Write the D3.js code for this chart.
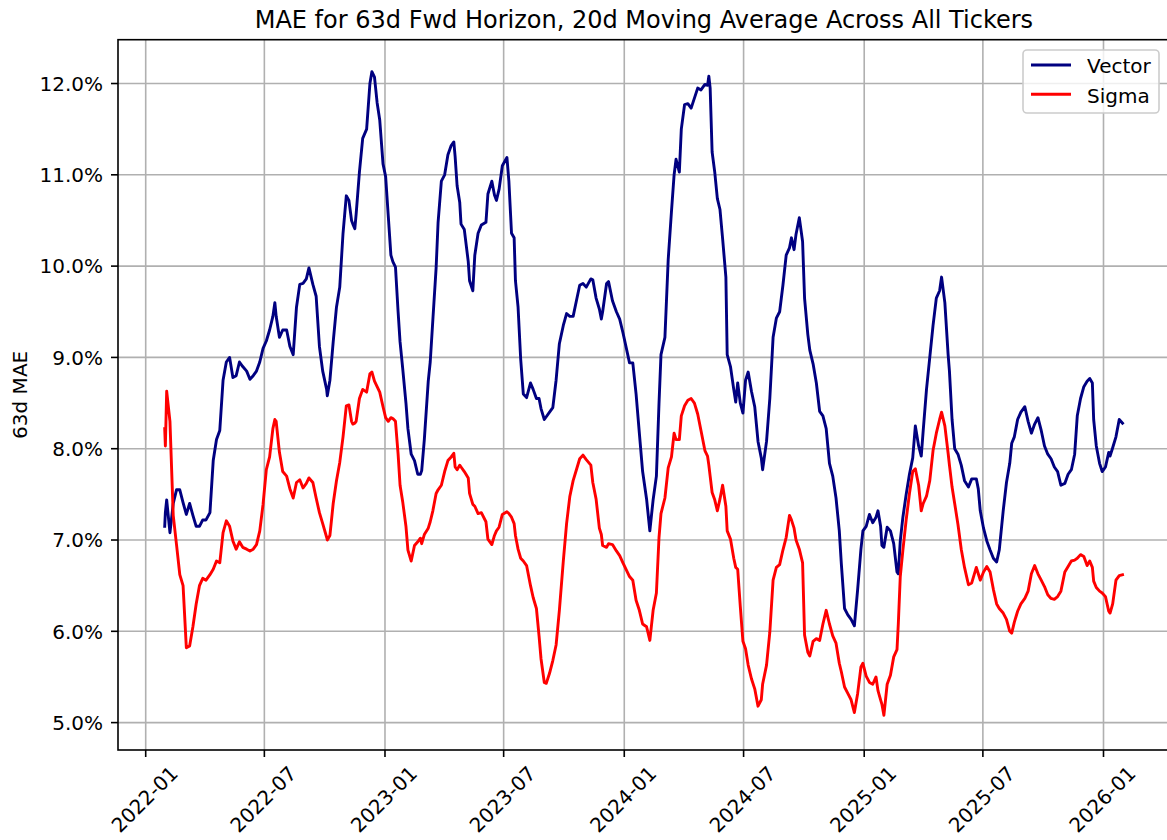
<!DOCTYPE html>
<html>
<head>
<meta charset="utf-8">
<script src="https://cdn.jsdelivr.net/npm/d3@7"></script>
<style>
    body { margin: 0; background: white; }
    svg text { font-family: "DejaVu Sans", sans-serif; fill: black; }
</style>
</head>
<body>
<div id="chart"></div>
<script>
// data, one value per date
var dates = [
    "2022-01-30","2022-01-31","2022-02-02","2022-02-07","2022-02-12","2022-02-17","2022-02-22","2022-02-27",
    "2022-03-04","2022-03-09","2022-03-14","2022-03-19","2022-03-24","2022-03-29","2022-04-03","2022-04-09",
    "2022-04-14","2022-04-19","2022-04-24","2022-04-29","2022-05-04","2022-05-09","2022-05-14","2022-05-19",
    "2022-05-24","2022-05-29","2022-06-04","2022-06-09","2022-06-14","2022-06-19","2022-06-24","2022-06-29",
    "2022-07-04","2022-07-09","2022-07-14","2022-07-17","2022-07-19","2022-07-24","2022-07-29","2022-08-04",
    "2022-08-09","2022-08-14","2022-08-19",
    "2022-08-24","2022-08-29","2022-09-03","2022-09-07","2022-09-13","2022-09-18","2022-09-23","2022-09-28",
    "2022-10-04","2022-10-05","2022-10-09","2022-10-14","2022-10-19","2022-10-24","2022-10-29","2022-11-03",
    "2022-11-07","2022-11-11","2022-11-13","2022-11-16","2022-11-18","2022-11-23","2022-11-28","2022-12-04",
    "2022-12-09","2022-12-12","2022-12-16","2022-12-20","2022-12-24","2022-12-29","2023-01-02","2023-01-06",
    "2023-01-10","2023-01-13","2023-01-17","2023-01-21","2023-01-24","2023-01-28","2023-02-02","2023-02-05",
    "2023-02-10","2023-02-15","2023-02-20","2023-02-24","2023-02-26","2023-03-02","2023-03-08","2023-03-11",
    "2023-03-15","2023-03-20","2023-03-23","2023-03-28","2023-04-02","2023-04-07","2023-04-12","2023-04-16",
    "2023-04-18","2023-04-21","2023-04-25","2023-04-27","2023-05-02","2023-05-08",
    "2023-05-10","2023-05-15","2023-05-18","2023-05-23","2023-05-28","2023-06-04","2023-06-07","2023-06-13",
    "2023-06-17","2023-06-20","2023-06-24","2023-06-29","2023-07-06","2023-07-09","2023-07-13","2023-07-17",
    "2023-07-19","2023-07-23","2023-07-27","2023-07-31","2023-08-05","2023-08-11","2023-08-15","2023-08-20",
    "2023-08-24","2023-08-27","2023-09-01","2023-09-04","2023-09-09","2023-09-14","2023-09-19","2023-09-24",
    "2023-09-30","2023-10-05","2023-10-10","2023-10-15","2023-10-20","2023-10-25","2023-10-30","2023-11-04",
    "2023-11-11","2023-11-14","2023-11-19","2023-11-24","2023-11-27","2023-11-29","2023-12-05","2023-12-08",
    "2023-12-14","2023-12-20","2023-12-25","2023-12-30",
    "2024-01-09","2024-01-14","2024-01-19","2024-01-24","2024-01-29","2024-02-04","2024-02-09","2024-02-14",
    "2024-02-19","2024-02-23","2024-02-26","2024-03-03","2024-03-08","2024-03-13","2024-03-17","2024-03-20",
    "2024-03-25","2024-03-28","2024-04-02","2024-04-07","2024-04-12","2024-04-17","2024-04-22","2024-04-27",
    "2024-05-03","2024-05-07","2024-05-09","2024-05-11","2024-05-14","2024-05-18","2024-05-22","2024-05-26",
    "2024-05-30","2024-06-04","2024-06-06","2024-06-11","2024-06-16","2024-06-19","2024-06-22","2024-06-26",
    "2024-06-30","2024-07-04","2024-07-08","2024-07-13","2024-07-18","2024-07-23","2024-07-28","2024-07-30",
    "2024-08-05","2024-08-10","2024-08-15","2024-08-20","2024-08-25","2024-08-30","2024-09-04",
    "2024-09-09","2024-09-12","2024-09-16","2024-09-19","2024-09-24","2024-09-29","2024-10-02","2024-10-07",
    "2024-10-10","2024-10-15","2024-10-20","2024-10-25","2024-10-30","2024-11-04","2024-11-09","2024-11-14",
    "2024-11-19","2024-11-24","2024-11-27","2024-12-02","2024-12-07","2024-12-12","2024-12-17","2024-12-22",
    "2024-12-27","2024-12-30","2025-01-04","2025-01-09","2025-01-14","2025-01-19","2025-01-22","2025-01-26",
    "2025-01-28","2025-01-31","2025-02-05","2025-02-10","2025-02-15","2025-02-20","2025-02-22","2025-02-25",
    "2025-03-01","2025-03-06","2025-03-11","2025-03-16","2025-03-20","2025-03-25","2025-03-29","2025-04-01",
    "2025-04-06","2025-04-11","2025-04-16","2025-04-21","2025-04-26","2025-04-29","2025-05-04","2025-05-09",
    "2025-05-11","2025-05-15","2025-05-19","2025-05-24","2025-05-29","2025-06-03","2025-06-09","2025-06-14",
    "2025-06-21","2025-06-24","2025-06-27","2025-07-02","2025-07-07","2025-07-12","2025-07-17","2025-07-22",
    "2025-07-26","2025-08-01","2025-08-06","2025-08-11","2025-08-14","2025-08-18","2025-08-23","2025-08-28",
    "2025-09-03","2025-09-08","2025-09-13","2025-09-18","2025-09-23","2025-09-28","2025-10-03","2025-10-08",
    "2025-10-13","2025-10-18","2025-10-23","2025-10-28","2025-11-03","2025-11-08","2025-11-13","2025-11-18",
    "2025-11-22","2025-11-27","2025-12-02","2025-12-07","2025-12-11","2025-12-15","2025-12-17","2025-12-21",
    "2025-12-26","2025-12-30","2026-01-04","2026-01-09","2026-01-11","2026-01-15","2026-01-20","2026-01-25",
    "2026-01-30"
];

var vectorMae = [
    7.15,7.30,7.44,7.08,7.40,7.55,7.55,7.41,
    7.28,7.40,7.27,7.15,7.15,7.22,7.22,7.30,
    7.87,8.10,8.20,8.75,8.95,9.00,8.78,8.80,
    8.95,8.90,8.85,8.76,8.80,8.85,8.95,9.10,
    9.18,9.30,9.45,9.60,9.45,9.22,9.30,9.30,
    9.12,9.03,9.55,
    9.80,9.81,9.86,9.98,9.80,9.67,9.12,8.85,
    8.65,8.58,8.75,9.17,9.55,9.77,10.36,10.77,
    10.72,10.50,10.46,10.41,10.57,11.03,11.40,11.50,
    12.00,12.13,12.07,11.79,11.60,11.12,10.98,10.55,
    10.12,10.05,9.99,9.50,9.17,8.88,8.50,8.22,
    7.94,7.87,7.72,7.72,7.76,8.10,8.74,8.95,
    9.41,9.98,10.48,10.93,11.00,11.22,11.32,11.36,
    11.20,10.88,10.70,10.46,10.40,10.05,
    9.84,9.73,10.12,10.36,10.45,10.48,10.79,10.93,
    10.78,10.72,10.84,11.10,11.19,10.93,10.36,10.31,
    9.84,9.55,8.98,8.60,8.56,8.72,8.65,8.55,
    8.55,8.44,8.32,8.35,8.40,8.45,8.75,9.15,
    9.35,9.48,9.45,9.45,9.62,9.79,9.81,9.77,
    9.86,9.85,9.65,9.53,9.42,9.50,9.81,9.83,
    9.62,9.50,9.42,9.27,
    8.94,8.94,8.60,8.17,7.75,7.45,7.10,7.44,
    7.70,8.50,9.03,9.22,10.07,10.60,11.00,11.17,
    11.03,11.50,11.77,11.78,11.73,11.84,11.95,11.93,
    11.99,11.98,12.08,11.95,11.25,11.03,10.74,10.62,
    10.30,9.88,9.03,8.90,8.65,8.51,8.72,8.50,
    8.39,8.75,8.84,8.63,8.46,8.08,7.90,7.77,
    8.08,8.55,9.22,9.43,9.50,9.79,10.12,
    10.20,10.31,10.18,10.35,10.53,10.27,9.65,9.25,
    9.08,8.93,8.72,8.41,8.36,8.22,7.84,7.70,
    7.46,7.10,6.75,6.25,6.18,6.13,6.06,6.46,
    6.90,7.10,7.15,7.28,7.19,7.25,7.32,7.15,
    6.94,6.92,7.14,7.10,6.96,6.65,6.63,6.99,
    7.25,7.50,7.72,7.90,8.25,8.03,7.92,8.20,
    8.65,9.00,9.35,9.65,9.73,9.88,9.60,9.03,
    8.85,8.32,8.00,7.94,7.82,7.65,7.58,7.67,
    7.67,7.56,7.32,7.13,6.99,6.89,6.80,6.76,
    6.89,7.32,7.63,7.84,8.06,8.13,8.32,8.40,
    8.46,8.30,8.17,8.27,8.34,8.20,8.03,7.94,
    7.89,7.80,7.75,7.60,7.62,7.72,7.77,7.94,
    8.36,8.55,8.68,8.74,8.77,8.72,8.32,8.03,
    7.84,7.75,7.80,7.96,7.92,8.01,8.13,8.32,
    8.28
];

var sigmaMae = [
    8.22,8.03,8.63,8.30,7.27,6.95,6.62,6.50,
    5.82,5.84,6.05,6.30,6.50,6.58,6.56,6.62,
    6.68,6.77,6.75,7.08,7.21,7.15,6.99,6.90,
    6.98,6.92,6.90,6.88,6.90,6.95,7.10,7.39,
    7.77,7.91,8.22,8.32,8.30,7.96,7.75,7.70,
    7.56,7.46,7.63,
    7.66,7.57,7.62,7.68,7.63,7.46,7.30,7.18,
    7.03,7.00,7.05,7.40,7.65,7.85,8.13,8.47,
    8.48,8.30,8.27,8.28,8.30,8.55,8.65,8.62,
    8.82,8.84,8.74,8.68,8.62,8.46,8.34,8.30,
    8.34,8.33,8.30,7.94,7.60,7.42,7.15,6.89,
    6.77,6.94,6.98,7.02,6.96,7.06,7.13,7.20,
    7.32,7.51,7.55,7.60,7.75,7.87,7.91,7.95,
    7.80,7.77,7.82,7.80,7.75,7.68,
    7.51,7.39,7.37,7.29,7.30,7.20,7.01,6.95,
    7.05,7.10,7.14,7.28,7.31,7.29,7.25,7.18,
    7.05,6.90,6.80,6.77,6.72,6.50,6.37,6.25,
    5.95,5.70,5.44,5.43,5.54,5.68,5.85,6.23,
    6.77,7.18,7.48,7.65,7.77,7.89,7.93,7.88,
    7.82,7.63,7.45,7.13,7.06,6.94,6.92,6.96,
    6.95,6.88,6.83,6.75,
    6.60,6.56,6.34,6.23,6.08,6.05,5.90,6.23,
    6.42,7.03,7.29,7.46,7.79,7.91,8.17,8.10,
    8.10,8.36,8.47,8.53,8.55,8.50,8.38,8.20,
    7.98,7.92,7.82,7.70,7.52,7.44,7.32,7.45,
    7.60,7.37,7.10,7.01,6.80,6.70,6.68,6.27,
    5.89,5.81,5.63,5.48,5.37,5.18,5.25,5.42,
    5.63,5.99,6.56,6.70,6.73,6.89,7.03,
    7.27,7.22,7.13,7.00,6.90,6.75,5.96,5.77,
    5.73,5.89,5.92,5.90,6.08,6.23,6.08,5.95,
    5.87,5.65,5.56,5.39,5.32,5.25,5.11,5.32,
    5.61,5.65,5.51,5.44,5.42,5.50,5.35,5.25,
    5.20,5.08,5.42,5.52,5.72,5.80,6.08,6.60,
    6.89,7.22,7.51,7.75,7.78,7.60,7.32,7.40,
    7.48,7.65,7.98,8.17,8.32,8.40,8.25,7.95,
    7.82,7.58,7.40,7.17,6.90,6.70,6.51,6.53,
    6.70,6.63,6.56,6.65,6.71,6.65,6.46,6.30,
    6.25,6.20,6.13,6.00,5.98,6.10,6.22,6.30,
    6.36,6.44,6.63,6.72,6.63,6.56,6.49,6.40,
    6.36,6.35,6.38,6.44,6.65,6.71,6.77,6.78,
    6.80,6.84,6.82,6.72,6.77,6.70,6.55,6.48,
    6.44,6.42,6.38,6.22,6.20,6.30,6.56,6.61,
    6.62
];

var seriesNames = ["Vector", "Sigma"];
var seriesColors = ["#000080", "#ff0000"];

var yTicks = [5, 6, 7, 8, 9, 10, 11, 12];
var xTickLabels = ["2022-01", "2022-07", "2023-01", "2023-07", "2024-01",
                   "2024-07", "2025-01", "2025-07", "2026-01"];

var titleText = "MAE for 63d Fwd Horizon, 20d Moving Average Across All Tickers";
var yLabelText = "63d MAE";

function makeLinePlot(container, options) {
    var that = {};
    var config = {
        width: options.width,
        height: options.height,
        left: 118,
        right: 1169.8,
        top: 39.7,
        bottom: 750
    };
    that.config = config;

    function render() {
        var parseDate = d3.utcParse("%Y-%m-%d");
        var parseMonth = d3.utcParse("%Y-%m");

        var svg = d3.select(container)
            .append("svg")
            .attr("width", config.width)
            .attr("height", config.height);

        // matplotlib put 2022-01 at x=145.7 and 2026-01 at x=1103.5
        var x = d3.scaleUtc()
            .domain([parseMonth("2022-01"), parseMonth("2026-01")])
            .range([145.7, 1103.5]);
        var y = d3.scaleLinear()
            .domain([4.70, 12.48])
            .range([config.bottom, config.top]);

        var series = seriesNames.map(function (name, k) {
            var vals = k == 0 ? vectorMae : sigmaMae;
            return {
                name: name,
                color: seriesColors[k],
                points: dates.map(function (d, i) {
                    return {date: parseDate(d), value: vals[i]};
                })
            };
        });

        svg.append("defs").append("clipPath")
            .attr("id", "plot_clip")
            .append("rect")
            .attr("x", config.left)
            .attr("y", config.top)
            .attr("width", config.right - config.left)
            .attr("height", config.bottom - config.top);

        // grid
        var grid = svg.append("g").attr("class", "grid");
        grid.selectAll(".vgrid")
            .data(xTickLabels)
            .enter().append("line")
            .attr("class", "vgrid")
            .attr("x1", function (d) { return x(parseMonth(d)); })
            .attr("x2", function (d) { return x(parseMonth(d)); })
            .attr("y1", config.top)
            .attr("y2", config.bottom)
            .style("stroke", "#b0b0b0")
            .style("stroke-width", 1.6);
        grid.selectAll(".hgrid")
            .data(yTicks)
            .enter().append("line")
            .attr("class", "hgrid")
            .attr("x1", config.left)
            .attr("x2", config.right)
            .attr("y1", function (d) { return y(d); })
            .attr("y2", function (d) { return y(d); })
            .style("stroke", "#b0b0b0")
            .style("stroke-width", 1.6);

        var line = d3.line()
            .x(function (d) { return x(d.date); })
            .y(function (d) { return y(d.value); });

        svg.append("g")
            .attr("clip-path", "url(#plot_clip)")
            .selectAll(".series_line")
            .data(series)
            .enter().append("path")
            .attr("class", "series_line")
            .attr("d", function (d) { return line(d.points); })
            .style("fill", "none")
            .style("stroke", function (d) { return d.color; })
            .style("stroke-width", 2.9)
            .style("stroke-linejoin", "round")
            .style("stroke-linecap", "square");

        // frame
        svg.append("rect")
            .attr("x", config.left)
            .attr("y", config.top)
            .attr("width", config.right - config.left)
            .attr("height", config.bottom - config.top)
            .style("fill", "none")
            .style("stroke", "black")
            .style("stroke-width", 1.6);

        // y ticks
        var yAxis = svg.append("g").attr("class", "y_axis");
        yAxis.selectAll(".ytick")
            .data(yTicks)
            .enter().append("line")
            .attr("class", "ytick")
            .attr("x1", config.left - 7)
            .attr("x2", config.left)
            .attr("y1", function (d) { return y(d); })
            .attr("y2", function (d) { return y(d); })
            .style("stroke", "black")
            .style("stroke-width", 1.6);
        yAxis.selectAll(".ylab")
            .data(yTicks)
            .enter().append("text")
            .attr("class", "ylab")
            .attr("x", config.left - 15)
            .attr("y", function (d) { return y(d) + 7.3; })
            .attr("text-anchor", "end")
            .style("font-size", "20px")
            .text(function (d) { return d.toFixed(1) + "%"; });

        // x ticks
        var xAxis = svg.append("g").attr("class", "x_axis");
        xAxis.selectAll(".xtick")
            .data(xTickLabels)
            .enter().append("line")
            .attr("class", "xtick")
            .attr("x1", function (d) { return x(parseMonth(d)); })
            .attr("x2", function (d) { return x(parseMonth(d)); })
            .attr("y1", config.bottom)
            .attr("y2", config.bottom + 7)
            .style("stroke", "black")
            .style("stroke-width", 1.6);
        xAxis.selectAll(".xlab")
            .data(xTickLabels)
            .enter().append("g")
            .attr("transform", function (d) {
                return "translate(" + x(parseMonth(d)) + "," + 800.4 + ") rotate(-45)";
            })
            .append("text")
            .attr("x", 0)
            .attr("y", 5.5)
            .attr("text-anchor", "middle")
            .style("font-size", "20px")
            .text(function (d) { return d; });

        // y label
        svg.append("text")
            .attr("transform", "translate(27," + (config.top + config.bottom) / 2 + ") rotate(-90)")
            .attr("text-anchor", "middle")
            .style("font-size", "20px")
            .text(yLabelText);

        // title
        svg.append("text")
            .attr("x", (config.left + config.right) / 2)
            .attr("y", config.top - 12)
            .attr("text-anchor", "middle")
            .style("font-size", "24px")
            .text(titleText);

        // legend
        var legend = svg.append("g").attr("class", "legend");
        legend.append("rect")
            .attr("x", 1023)
            .attr("y", 50)
            .attr("width", 136)
            .attr("height", 63)
            .attr("rx", 4)
            .style("fill", "white")
            .style("fill-opacity", 0.8)
            .style("stroke", "#cccccc")
            .style("stroke-width", 1.6);
        var entry = legend.selectAll(".legend_entry")
            .data(series)
            .enter().append("g")
            .attr("class", "legend_entry")
            .attr("transform", function (d, i) { return "translate(0," + (65 + i * 29.3) + ")"; });
        entry.append("line")
            .attr("x1", 1031)
            .attr("x2", 1071)
            .attr("y1", 0)
            .attr("y2", 0)
            .style("stroke", function (d) { return d.color; })
            .style("stroke-width", 2.9);
        entry.append("text")
            .attr("x", 1087)
            .attr("y", 8.2)
            .style("font-size", "20px")
            .text(function (d) { return d.name; });
    }

    that.render = render;
    return that;
}

var plot = makeLinePlot("#chart", {width: 1167, height: 840});
plot.render();
</script>
</body>
</html>
